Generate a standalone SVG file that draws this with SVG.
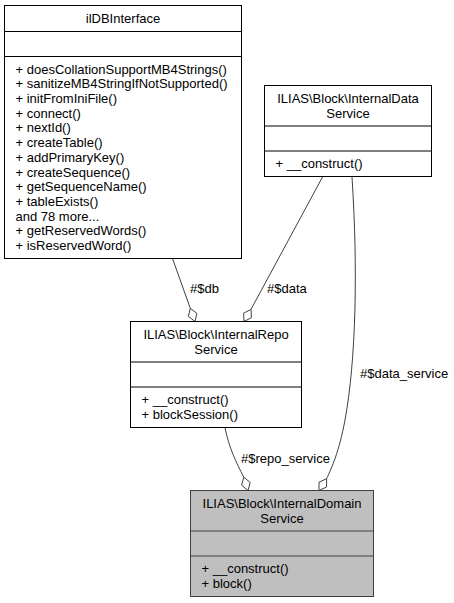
<svg xmlns="http://www.w3.org/2000/svg" width="454" height="603" viewBox="0 0 454 603">
<style>
text{font-family:"Liberation Sans",Arial,sans-serif;font-size:13px;fill:#000}
.t{text-anchor:middle}
.box{fill:#fff;stroke:#000;stroke-width:1}
.cur{fill:#bfbfbf;stroke:#404040;stroke-width:1}
.sep{stroke:#000;stroke-width:1}
.sepc{stroke:#404040;stroke-width:1}
.edge{fill:none;stroke:#404040;stroke-width:1}
.dia{fill:#fff;stroke:#404040;stroke-width:1}
</style>
<rect width="454" height="603" fill="#fff"/>
<g id="connectors">
<path class="edge" d="M172.5,258.5 L190.3,308.3"/>
<polygon class="dia" points="195,321.5 188.4,316.4 190.3,308.3 196.9,313.4"/>
<text x="190" y="293">#$db</text>
<path class="edge" d="M322.5,177 L251,309.4"/>
<polygon class="dia" points="244,321.5 243.6,313.2 251,309.4 251.4,317.7"/>
<text x="267" y="293">#$data</text>
<path class="edge" d="M352,177 C358,270 356,360 345,420 C339,452 332,467 326.6,478.7"/>
<polygon class="dia" points="319,490.5 319,482.2 326.6,478.7 326.6,487"/>
<text x="360" y="378">#$data_service</text>
<path class="edge" d="M225,427.5 C229,448 236,462 243.8,477.2"/>
<polygon class="dia" points="248,490.5 241.6,485.2 243.8,477.2 250.2,482.5"/>
<text x="241" y="463">#$repo_service</text>
</g>
<g id="ilDBInterface">
<rect class="box" x="4.5" y="5.5" width="237" height="253"/>
<line class="sep" x1="4.5" y1="31.5" x2="241.5" y2="31.5"/>
<line class="sep" x1="4.5" y1="56.5" x2="241.5" y2="56.5"/>
<text class="t" x="123" y="22.6">ilDBInterface</text>
<text x="15.5" y="73.6">+ doesCollationSupportMB4Strings()</text>
<text x="15.5" y="88.3">+ sanitizeMB4StringIfNotSupported()</text>
<text x="15.5" y="103">+ initFromIniFile()</text>
<text x="15.5" y="117.7">+ connect()</text>
<text x="15.5" y="132.4">+ nextId()</text>
<text x="15.5" y="147.1">+ createTable()</text>
<text x="15.5" y="161.8">+ addPrimaryKey()</text>
<text x="15.5" y="176.5">+ createSequence()</text>
<text x="15.5" y="191.2">+ getSequenceName()</text>
<text x="15.5" y="205.9">+ tableExists()</text>
<text x="15.5" y="220.6">and 78 more...</text>
<text x="15.5" y="235.3">+ getReservedWords()</text>
<text x="15.5" y="250">+ isReservedWord()</text>
</g>
<g id="InternalDataService">
<rect class="box" x="264.5" y="85.5" width="167" height="91"/>
<line class="sep" x1="264.5" y1="126" x2="431.5" y2="126"/>
<line class="sep" x1="264.5" y1="151" x2="431.5" y2="151"/>
<text class="t" x="348" y="103">ILIAS\Block\InternalData</text>
<text class="t" x="348" y="117.5">Service</text>
<text x="275.5" y="168">+ __construct()</text>
</g>
<g id="InternalRepoService">
<rect class="box" x="130.5" y="321.5" width="171" height="106"/>
<line class="sep" x1="130.5" y1="362" x2="301.5" y2="362"/>
<line class="sep" x1="130.5" y1="387" x2="301.5" y2="387"/>
<text class="t" x="216" y="339">ILIAS\Block\InternalRepo</text>
<text class="t" x="216" y="353.5">Service</text>
<text x="141.5" y="404">+ __construct()</text>
<text x="141.5" y="418.7">+ blockSession()</text>
</g>
<g id="InternalDomainService">
<rect class="cur" x="190.5" y="490.5" width="183" height="106"/>
<line class="sepc" x1="190.5" y1="531" x2="373.5" y2="531"/>
<line class="sepc" x1="190.5" y1="556" x2="373.5" y2="556"/>
<text class="t" x="282" y="508">ILIAS\Block\InternalDomain</text>
<text class="t" x="282" y="522.5">Service</text>
<text x="201.5" y="573">+ __construct()</text>
<text x="201.5" y="587.7">+ block()</text>
</g>
</svg>
